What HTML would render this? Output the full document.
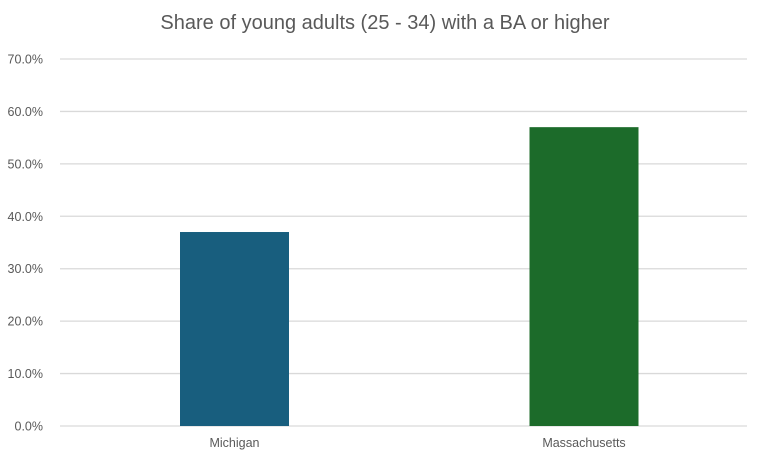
<!DOCTYPE html>
<html><head><meta charset="utf-8"><style>
body{margin:0;background:#fff;font-family:"Liberation Sans",sans-serif}
svg{display:block}
</style></head><body>
<svg id="chart" width="771" height="461" viewBox="0 0 771 461" xmlns="http://www.w3.org/2000/svg">
<text x="385" y="29" text-anchor="middle" font-size="20" fill="#595959">Share of young adults (25 - 34) with a BA or higher</text>
<g id="grid"></g><g id="bars"></g><g id="labels"></g>
</svg>
<script>
const categories=["Michigan","Massachusetts"];
const values=[37.0,57.0];
const colors=["#185e7e","#1c6b2a"];
const ticks=[0,10,20,30,40,50,60,70];
const tickLabels=["0.0%","10.0%","20.0%","30.0%","40.0%","50.0%","60.0%","70.0%"];
const NS="http://www.w3.org/2000/svg";
const x0=60,x1=747,y0=426,yTop=59,maxV=70;
const bx0=59.75,bx1=758.75;
const y=v=>y0-(v/maxV)*(y0-yTop);
const band=(bx1-bx0)/categories.length;
const xc=i=>bx0+band*(i+0.5);
const bw=109;
function mk(t,a,p){const e=document.createElementNS(NS,t);for(const k in a)e.setAttribute(k,a[k]);p.appendChild(e);return e;}
const g=document.getElementById('grid'),b=document.getElementById('bars'),l=document.getElementById('labels');
ticks.forEach((t,i)=>{
  const ln=mk('line',{x1:x0,x2:x1,y1:y(t),y2:y(t),stroke:'#d9d9d9','stroke-width':1.3},g);
  
  
  const tx=mk('text',{x:43,y:y(t)+4.5,'text-anchor':'end','font-size':12.5,fill:'#595959'},g);
  tx.textContent=tickLabels[i];
  
  
});
categories.forEach((c,i)=>{
  const r=mk('rect',{x:xc(i)-bw/2,y:y(values[i]),width:bw,height:y0-y(values[i]),fill:colors[i]},b);
  
  
  const tx=mk('text',{x:xc(i),y:447,'text-anchor':'middle','font-size':12.5,fill:'#595959'},l);
  tx.textContent=c;
  
  
});
</script>
</body></html>
